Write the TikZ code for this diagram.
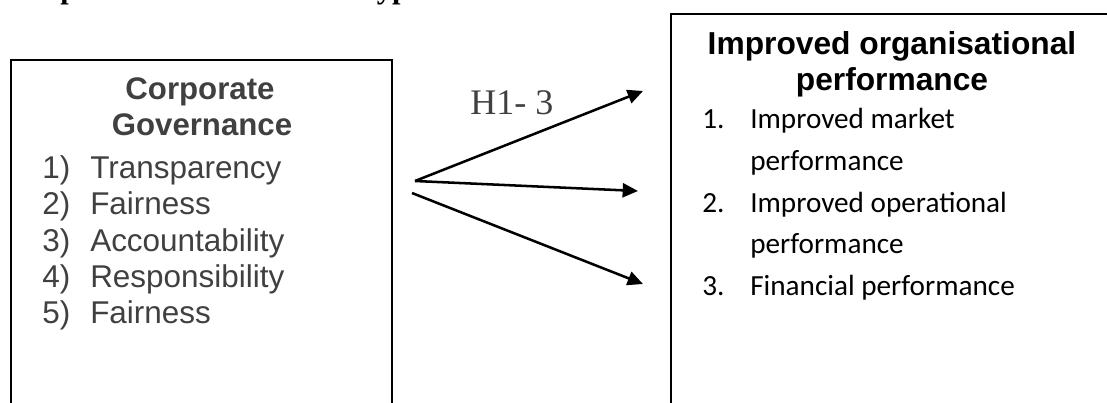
\documentclass[tikz,border=0pt]{standalone}
\usepackage{fontspec}
\setmainfont{Liberation Serif}
\setsansfont{Liberation Sans}
\newfontfamily\calibri{Carlito}
\usetikzlibrary{arrows.meta}
\definecolor{textgray}{RGB}{64,64,64}
\tikzset{
  box/.style={draw=black, line width=1.6pt, anchor=north west, inner sep=0pt, outer sep=0pt},
  cgtitle/.style={anchor=base, text=textgray, font=\sffamily\bfseries\fontsize{23.4}{28}\selectfont},
  cgitem/.style={anchor=base west, text=textgray, font=\sffamily\fontsize{23.6}{28}\selectfont, inner sep=0pt},
  optitle/.style={anchor=base, text=black, font=\sffamily\bfseries\fontsize{23.8}{28}\selectfont},
  opitem/.style={anchor=base west, text=black, font=\calibri\fontsize{21.9}{26}\selectfont, inner sep=0pt},
  link/.style={line width=1.9pt, -{Triangle[length=11.5pt,width=10.5pt]}},
}
\begin{document}
\begin{tikzpicture}[x=0.75pt,y=-0.75pt]
\useasboundingbox (0,0) rectangle (1107,403);
\clip (0,0) rectangle (1107,403);

% heading line, running above the top edge
\node[anchor=base west, inner sep=0pt, font=\rmfamily\bfseries\fontsize{22.8}{27}\selectfont] (heading) at (-21,-1.5) {Conceptual Framework and Hypotheses};

% left box: corporate governance
\node[box, minimum width=285.75pt, minimum height=277.5pt] (cg) at (11,60) {};
\node[cgtitle] (cgt1) at (200,99) {Corporate};
\node[cgtitle] (cgt2) at (202,135) {Governance};
\foreach \n/\t/\y in {1/Transparency/178, 2/Fairness/214, 3/Accountability/251, 4/Responsibility/287, 5/Fairness/323}{
  \node[cgitem] (cgn\n) at (42,\y) {\n)};
  \node[cgitem] (cgi\n) at (90,\y) {\t};
}

% right box: organisational performance
\node[box, minimum width=344.25pt, minimum height=312pt] (op) at (671,14) {};
\node[optitle] (opt1) at (892,55) {Improved organisational};
\node[optitle] (opt2) at (892,90) {performance};
\node[opitem] (opn1) at (702,128) {1.};
\node[opitem] (opi1) at (750,128) {Improved market};
\node[opitem] (opi1b) at (750,170) {performance};
\node[opitem] (opn2) at (702,212) {2.};
\node[opitem] (opi2) at (750,212) {Improved operational};
\node[opitem] (opi2b) at (750,253) {performance};
\node[opitem] (opn3) at (702,295) {3.};
\node[opitem] (opi3) at (750,295) {Financial performance};

% hypotheses label
\node[anchor=base west, inner sep=0pt, text=textgray, font=\rmfamily\fontsize{27}{32}\selectfont] (hyp) at (470,114) {H1- 3};

% hypothesised links
\coordinate (src) at (415,181);
\coordinate (src2) at (412,193);
\coordinate (tgt1) at (643,91);
\coordinate (tgt2) at (638,191);
\coordinate (tgt3) at (643,284);
\draw[link] (src) -- (tgt1);
\draw[link] (src) -- (tgt2);
\draw[link] (src2) -- (tgt3);
\end{tikzpicture}
\end{document}
